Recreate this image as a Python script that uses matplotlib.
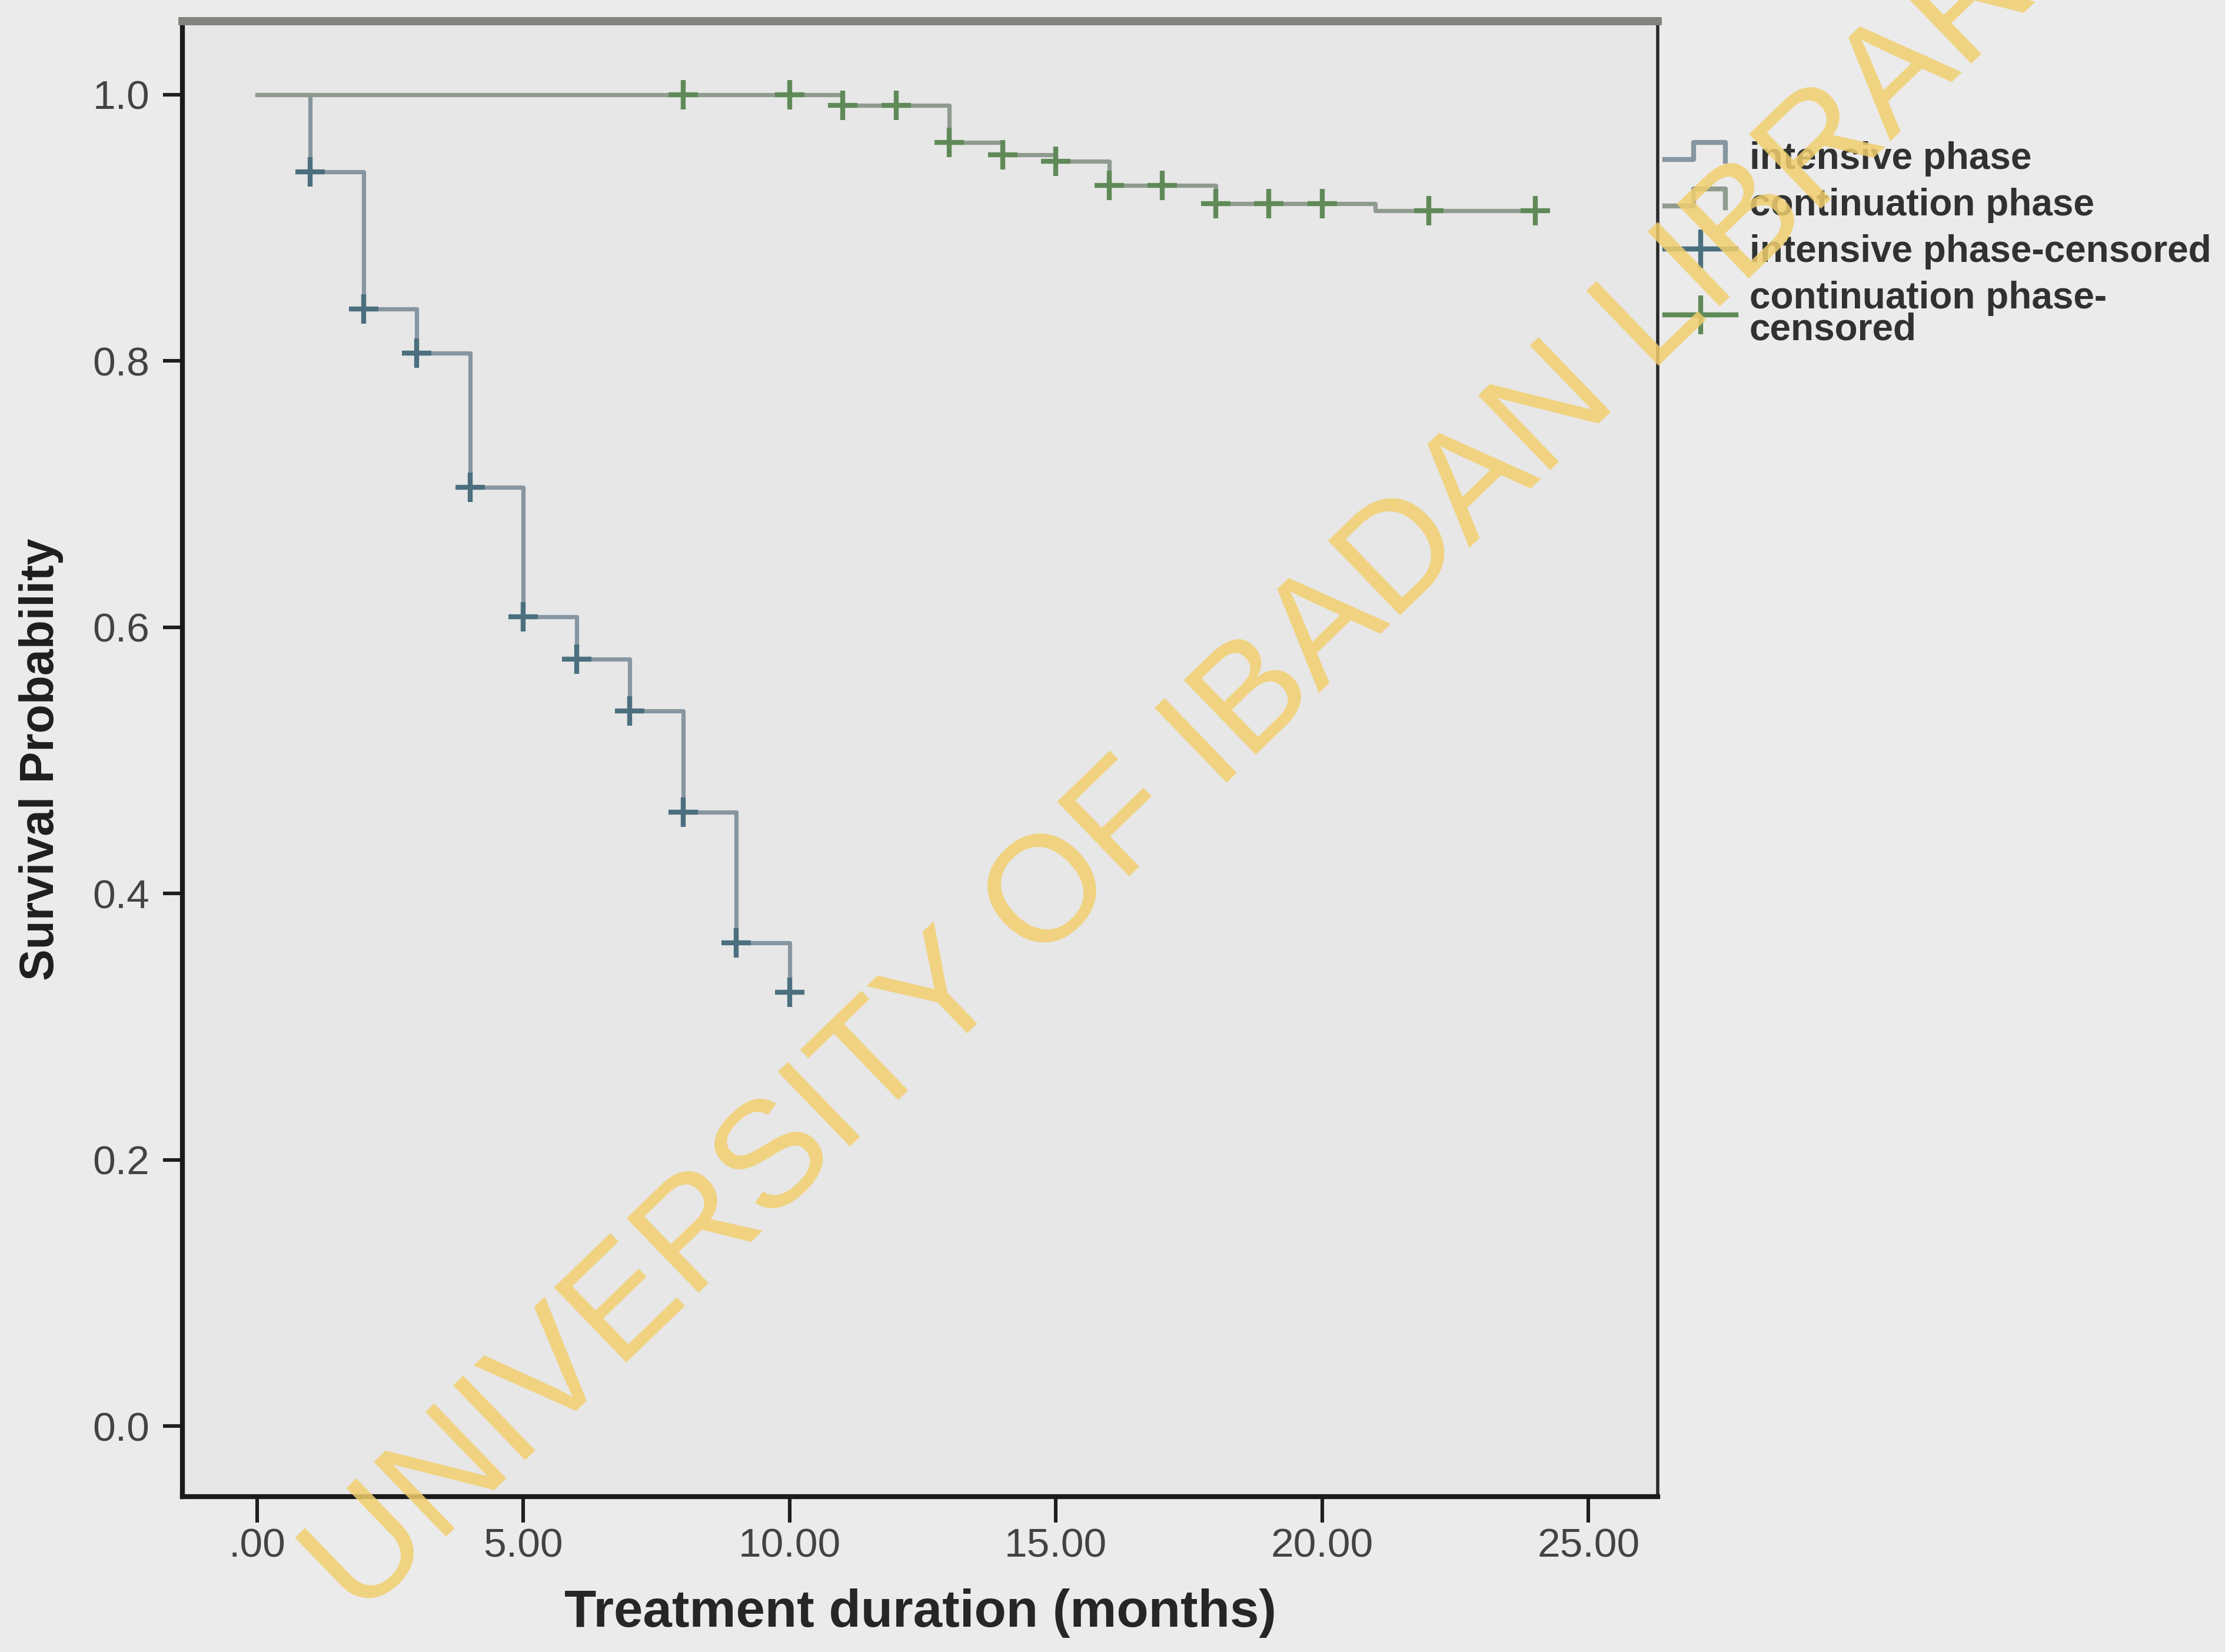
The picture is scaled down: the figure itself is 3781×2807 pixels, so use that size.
import matplotlib
matplotlib.use("Agg")
import matplotlib.pyplot as plt
from matplotlib.lines import Line2D
from matplotlib.legend_handler import HandlerLine2D

plt.rcParams['font.family'] = ['Liberation Sans', 'DejaVu Sans']

# Kaplan-Meier steps
intensive_t = [0, 1, 2, 3, 4, 5, 6, 7, 8, 9, 10]
intensive_s = [1.0, 0.942, 0.839, 0.806, 0.705, 0.608, 0.576, 0.537, 0.461, 0.363, 0.326]
intensive_cens_t = [1, 2, 3, 4, 5, 6, 7, 8, 9, 10]
intensive_cens_s = [0.942, 0.839, 0.806, 0.705, 0.608, 0.576, 0.537, 0.461, 0.363, 0.326]

contin_t = [0, 11, 13, 14, 15, 16, 18, 21, 24]
contin_s = [1.0, 0.992, 0.964, 0.955, 0.950, 0.932, 0.918, 0.913, 0.913]
contin_cens_t = [8, 10, 11, 12, 13, 14, 15, 16, 17, 18, 19, 20, 22, 24]
contin_cens_s = [1.0, 1.0, 0.992, 0.992, 0.964, 0.955, 0.950, 0.932, 0.932,
                 0.918, 0.918, 0.918, 0.913, 0.913]

xticks = [0, 5, 10, 15, 20, 25]
xtick_labels = [".00", "5.00", "10.00", "15.00", "20.00", "25.00"]
yticks = [0.0, 0.2, 0.4, 0.6, 0.8, 1.0]
ytick_labels = ["0.0", "0.2", "0.4", "0.6", "0.8", "1.0"]

legend_labels = ["intensive phase", "continuation phase",
                 "intensive phase-censored", "continuation phase-\ncensored"]

int_line = "#8796a0"
int_mark = "#4b6f7e"
con_line = "#8f9b8f"
con_mark = "#5f8a58"


class StepHandler(HandlerLine2D):
    # legend glyph shaped like a small survival step
    def create_artists(self, legend, orig_handle, xdescent, ydescent,
                       width, height, fontsize, trans):
        x0, x1 = -xdescent, -xdescent + width * 0.85
        y0, y1 = -ydescent, -ydescent + height
        xs = [x0, x0 + 0.4 * width, x0 + 0.4 * width, x1, x1]
        ys = [y0 + 0.35 * height, y0 + 0.35 * height, y1, y1, y0 + 0.3 * height]
        ln = Line2D(xs, ys, color=orig_handle.get_color(),
                    lw=orig_handle.get_linewidth(), transform=trans)
        return [ln]


fig = plt.figure(figsize=(18.905, 14.035), dpi=200, facecolor="#ebebeb")
ax = fig.add_axes([0.082, 0.094, 0.663, 0.893])
ax.set_facecolor("#e7e7e7")

ax.step(intensive_t, intensive_s, where="post", color=int_line, lw=2.6, zorder=3)
ax.step(contin_t, contin_s, where="post", color=con_line, lw=2.6, zorder=3)
ax.plot(intensive_cens_t, intensive_cens_s, linestyle="none", marker="+",
        ms=18, mew=3, color=int_mark, zorder=4)
ax.plot(contin_cens_t, contin_cens_s, linestyle="none", marker="+",
        ms=18, mew=3, color=con_mark, zorder=4)

ax.set_xlim(-1.4, 26.3)
ax.set_ylim(-0.053, 1.055)
ax.set_xticks(xticks)
ax.set_xticklabels(xtick_labels)
ax.set_yticks(yticks)
ax.set_yticklabels(ytick_labels)
ax.tick_params(axis="both", direction="out", length=12, width=2.2,
               labelsize=25, labelcolor="#434343", color="#1e1e1e", pad=8)
ax.tick_params(axis="x", length=16, pad=3)

for side in ["left", "bottom"]:
    ax.spines[side].set_linewidth(3)
    ax.spines[side].set_color("#1a1a1a")
ax.spines["top"].set_linewidth(5)
ax.spines["top"].set_color("#80847c")
ax.spines["right"].set_linewidth(2)
ax.spines["right"].set_color("#2a2a2a")

ax.set_xlabel("Treatment duration (months)", fontsize=32, fontweight="bold",
              color="#262626", labelpad=14)
ax.set_ylabel("Survival Probability", fontsize=29, fontweight="bold",
              color="#1e1e1e", labelpad=18)

handles = [Line2D([], [], color=int_line, lw=3),
           Line2D([], [], color=con_line, lw=3),
           Line2D([], [], color=int_mark, lw=3, marker="+", ms=24, mew=3),
           Line2D([], [], color=con_mark, lw=3, marker="+", ms=24, mew=3)]
leg = fig.legend(handles, legend_labels, loc="upper left",
                 bbox_to_anchor=(0.733, 0.935), frameon=False,
                 handlelength=1.9, handletextpad=0.35, labelspacing=0.3,
                 prop={"weight": "bold", "size": 23},
                 handler_map={handles[0]: StepHandler(), handles[1]: StepHandler()})
for t in leg.get_texts():
    t.set_color("#2f3230")
    t.set_linespacing(0.85)

# library watermark
fig.text(0.543, 0.548, "UNIVERSITY OF IBADAN LIBRARY", fontsize=92,
         color="#f2cf6e", alpha=0.85, rotation=44, ha="center", va="center",
         rotation_mode="anchor", zorder=10)

fig.savefig("out.png", dpi=200, facecolor=fig.get_facecolor())
